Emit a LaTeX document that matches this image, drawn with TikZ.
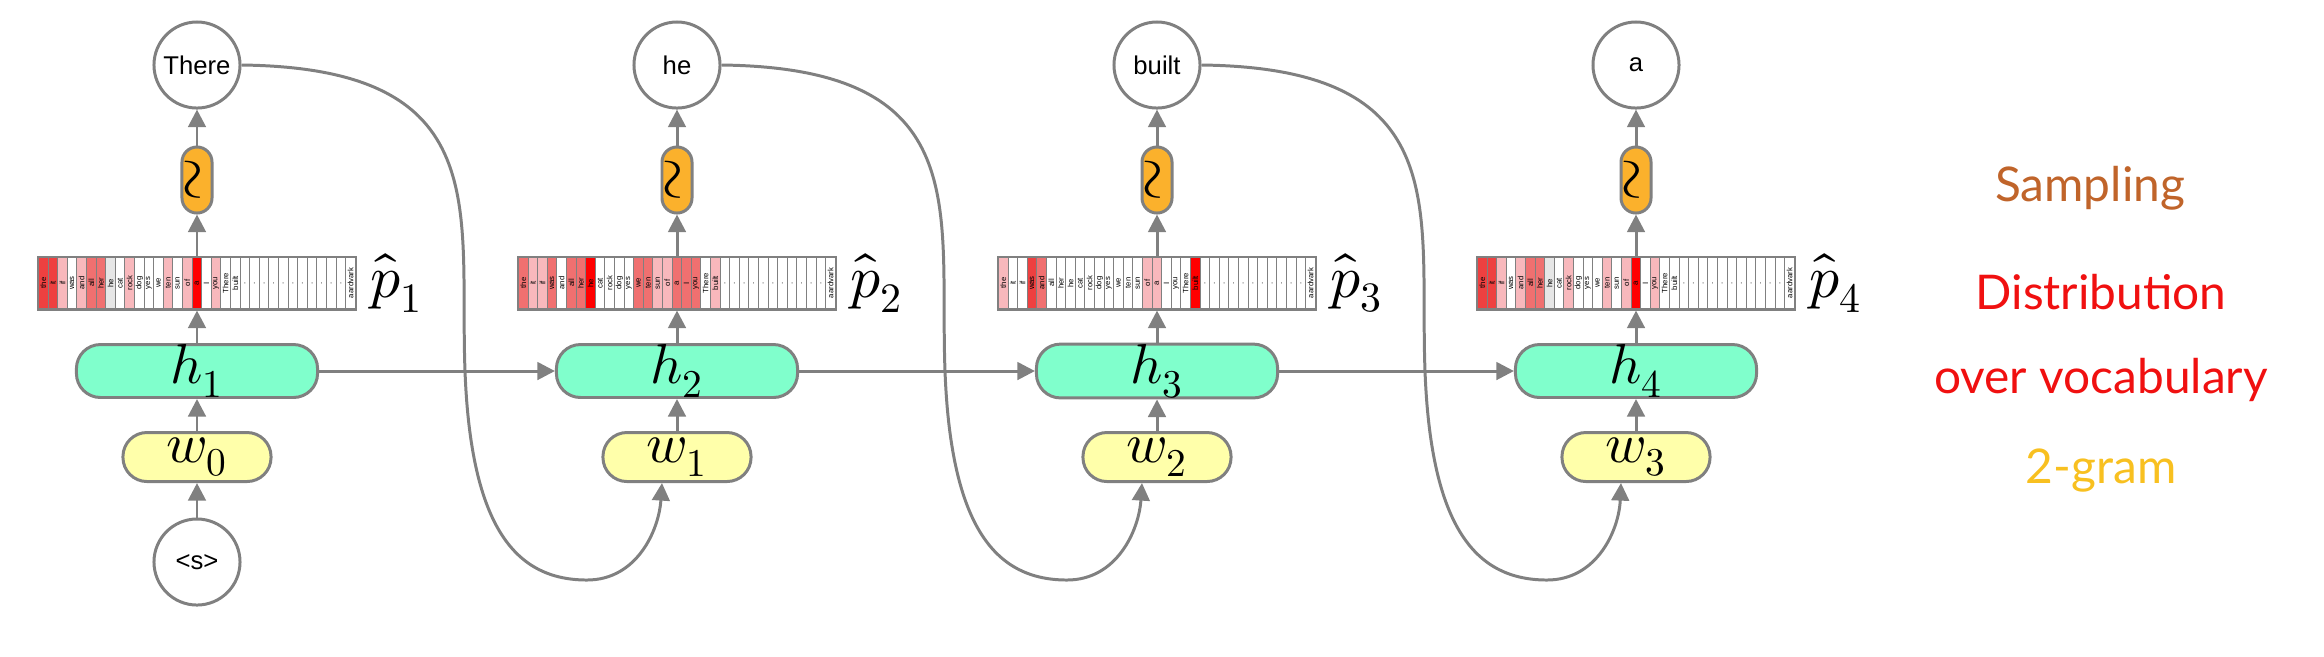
\documentclass[tikz,border=0pt]{standalone}
\usepackage{fontspec}
\setmainfont{Liberation Sans}
\newfontfamily\lato{Lato}
\usepackage{unicode-math}
\setmathfont{Latin Modern Math}
\usetikzlibrary{arrows.meta,calc}
\definecolor{gline}{HTML}{808080}
\definecolor{hgreen}{HTML}{80FFCC}
\definecolor{wyellow}{HTML}{FFFFAA}
\definecolor{sorange}{HTML}{FBB12C}
\definecolor{cz}{HTML}{FFFFFF}
\definecolor{ca}{HTML}{F8B8BC}
\definecolor{cb}{HTML}{F07070}
\definecolor{cc}{HTML}{EE4040}
\definecolor{cd}{HTML}{FF0000}
\definecolor{cg}{HTML}{E6E6E6}
\definecolor{csamp}{HTML}{C0642A}
\definecolor{cdist}{HTML}{F01010}
\definecolor{cgram}{HTML}{F8C020}
\tikzset{
  ln/.style={draw=gline,line width=0.85pt},
  arr/.style={ln,-{Triangle[length=5pt,width=5pt]}},
  word/.style={ln,circle,fill=white,minimum size=0.86cm,inner sep=0pt,font=\fontsize{7.3}{8}\selectfont},
  hnode/.style={ln,rectangle,rounded corners=0.24cm,fill=hgreen,minimum width=2.41cm,minimum height=0.48cm,inner sep=0pt,font=\fontsize{16}{16}\selectfont},
  wnode/.style={ln,rectangle,rounded corners=0.24cm,fill=wyellow,minimum width=1.48cm,minimum height=0.49cm,inner sep=0pt,font=\fontsize{16}{16}\selectfont},
  snode/.style={ln,rectangle,rounded corners=0.15cm,fill=sorange,minimum width=0.3cm,minimum height=0.66cm,inner sep=0pt},
  dist/.style={ln,rectangle,minimum width=3.17cm,minimum height=0.52cm,inner sep=0pt},
  cell/.style={draw=gline,line width=0.3pt},
  ctext/.style={rotate=90,font=\fontsize{2.2}{2.5}\selectfont,inner sep=0pt},
  plab/.style={font=\fontsize{17}{17}\selectfont},
  rlab/.style={font=\lato\fontsize{13.6}{16}\selectfont,align=center}
}
\newcommand{\mydist}[2]{%
  \foreach \c [count=\i] in {#2,z,z,z,z,z,z,z,z,z,z,z,z}{%
    \fill[c\c] ($(#1)+({-158.5+(\i-1)*9.6},-26)$) rectangle ++(9.6,52);
    \draw[cell] ($(#1)+({-158.5+(\i-1)*9.6},-26)$) rectangle ++(9.6,52);
  }%
  \foreach \w [count=\i] in {the,it,if,was,and,all,her,he,cat,rock,dog,yes,we,ten,sun,of,a,I,you,There,built,.,.,.,.,.,.,.,.,.,.,.,aardvark}{%
    \node[ctext] at ($(#1)+({-158.5+(\i-0.5)*9.6},0)$) {\w};
  }%
}
\begin{document}
\begin{tikzpicture}[x=0.01cm,y=-0.01cm]
\useasboundingbox (0,0) rectangle (2324,656);
\foreach \k/\cx/\wrd/\lo in {1/197/There/0,2/677/he/1,3/1157/built/2,4/1636/a/3}{
  \node[word] (t\k) at (\cx,65) {\wrd};
  \node[snode] (s\k) at (\cx,180) {\scalebox{1.9}[1.6]{\rotatebox{90}{$\boldsymbol{\sim}$}}};
  \node[dist] (d\k) at (\cx,283) {};
  \node[hnode] (h\k) at (\cx,371) {$h_{\k}$};
  \node[wnode] (w\k) at (\cx,457) {$w_{\lo}$};
  \node[plab] (p\k) at (\cx+200,283) {$\hat{p}_{\k}$};
}
\node[word] (s0) at (197,562) {<s>};
\mydist{d1}{c,c,a,z,a,b,b,g,z,a,z,z,z,a,z,a,d,z,a,z,z}
\mydist{d2}{b,a,a,b,z,b,b,d,z,z,z,z,b,b,a,a,b,b,b,z,a}
\mydist{d3}{a,z,z,c,b,z,z,z,z,z,z,z,z,z,z,a,a,z,z,z,d}
\mydist{d4}{c,c,a,z,a,b,b,g,z,a,z,z,z,a,z,a,d,z,a,z,z}
\foreach \k in {1,2,3,4}{
  \draw[arr] (h\k) -- (d\k);
  \draw[arr] (w\k) -- (h\k);
  \draw[arr] (d\k) -- (s\k);
  \draw[arr] (s\k) -- (t\k);
}
\draw[arr] (s0) -- (w1);
\foreach \k/\n in {1/2,2/3,3/4}{
  \draw[arr] (h\k) -- (h\n);
}
\foreach \k/\n/\cx in {1/2/197,2/3/677,3/4/1157}{
  \begin{scope}[shift={(\cx,0)}]
  \draw[arr] (t\k.east) .. controls (300,68) and (262,210) .. (268,371)
     .. controls (274,530) and (320,580) .. (390,580)
     .. controls (440,580) and (462,530) .. (w\n.240);
  \end{scope}
}
\node[rlab,text=csamp] (lsamp) at (2090,188) {Sampling};
\node[rlab,text=cdist] (ldist) at (2101,338) {Distribution\\[8pt]over vocabulary};
\node[rlab,text=cgram] (lgram) at (2101,471) {2-gram};
\end{tikzpicture}
\end{document}
